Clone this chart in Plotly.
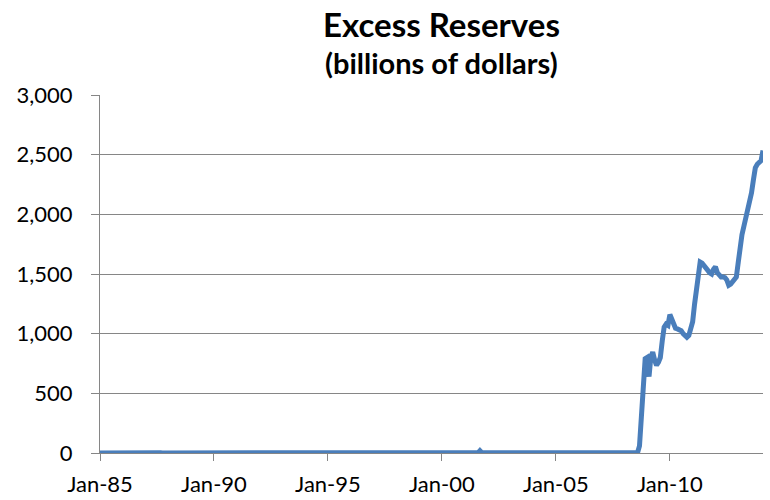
import pandas as pd
import plotly.graph_objects as go

# Monthly excess reserves of depository institutions, billions of dollars,
# one row per year starting Jan 1985.
reserves = [
    1.0, 1.3, 1.1, 0.9, 1.2, 1.4, 1.1, 0.9, 1.0, 1.2, 1.1, 1.6,   # 1985
    1.2, 1.0, 1.1, 1.3, 1.2, 1.4, 1.5, 1.2, 1.3, 1.1, 1.2, 1.9,   # 1986
    1.3, 1.0, 0.9, 1.1, 1.0, 0.9, 1.0, 0.9, 1.1, 1.0, 1.1, 1.3,   # 1987
    1.0, 1.1, 1.0, 0.9, 1.0, 1.1, 1.0, 0.9, 1.0, 0.9, 1.0, 1.2,   # 1988
    0.9, 0.8, 0.9, 1.0, 0.9, 0.8, 0.9, 0.9, 1.0, 0.9, 1.0, 1.0,   # 1989
    1.1, 0.9, 0.8, 1.0, 0.9, 1.0, 0.9, 1.0, 1.1, 0.9, 1.1, 1.4,   # 1990
    1.3, 1.1, 1.0, 1.2, 1.0, 1.1, 1.0, 1.1, 1.0, 1.0, 1.1, 1.2,   # 1991
    1.2, 1.0, 1.1, 1.0, 1.2, 1.1, 1.0, 1.1, 1.2, 1.0, 1.1, 1.6,   # 1992
    1.4, 1.1, 1.0, 1.2, 1.1, 1.0, 1.1, 1.0, 1.2, 1.1, 1.2, 1.5,   # 1993
    1.3, 1.0, 1.1, 1.0, 1.1, 1.2, 1.0, 1.1, 1.0, 1.1, 1.2, 1.4,   # 1994
    1.2, 1.0, 1.1, 1.0, 1.1, 1.0, 1.1, 1.0, 1.2, 1.1, 1.0, 1.3,   # 1995
    1.2, 1.1, 1.0, 1.2, 1.1, 1.2, 1.0, 1.1, 1.2, 1.0, 1.3, 1.6,   # 1996
    1.4, 1.2, 1.1, 1.3, 1.2, 1.3, 1.1, 1.2, 1.3, 1.2, 1.3, 1.6,   # 1997
    1.5, 1.3, 1.2, 1.4, 1.3, 1.4, 1.3, 1.4, 1.5, 1.3, 1.4, 1.7,   # 1998
    1.5, 1.3, 1.2, 1.4, 1.3, 1.4, 1.2, 1.3, 1.4, 1.3, 1.5, 2.0,   # 1999
    1.6, 1.3, 1.2, 1.4, 1.1, 1.3, 1.2, 1.3, 1.2, 1.1, 1.3, 1.5,   # 2000
    1.3, 1.2, 1.1, 1.3, 1.2, 1.4, 1.3, 1.2, 19.0, 1.7, 1.5, 1.9,  # 2001
    1.6, 1.4, 1.3, 1.5, 1.4, 1.5, 1.4, 1.6, 1.5, 1.4, 1.6, 2.0,   # 2002
    1.8, 1.5, 1.4, 1.6, 1.5, 1.7, 1.6, 1.5, 1.7, 1.6, 1.7, 2.0,   # 2003
    1.8, 1.6, 1.5, 1.7, 1.6, 1.8, 1.7, 1.6, 1.8, 1.7, 1.8, 2.1,   # 2004
    1.7, 1.5, 1.6, 1.7, 1.6, 1.8, 1.7, 1.6, 1.8, 1.7, 1.6, 1.9,   # 2005
    1.8, 1.6, 1.7, 1.8, 1.6, 1.7, 1.8, 1.6, 1.7, 1.8, 1.7, 1.9,   # 2006
    1.7, 1.6, 1.7, 1.8, 1.6, 1.7, 1.8, 1.7, 1.8, 1.6, 1.7, 1.9,   # 2007
    1.8, 1.7, 1.9, 1.8, 1.7, 1.9, 1.8, 1.9, 60, 270, 600, 790,     # 2008
    800, 640, 800, 845, 780, 735, 760, 800, 940, 1055, 1080, 1070,  # 2009
    1160, 1120, 1060, 1045, 1040, 1030, 1025, 1000, 980, 970, 985, 1030,  # 2010
    1100, 1250, 1390, 1500, 1600, 1590, 1575, 1550, 1530, 1510, 1500, 1540,  # 2011
    1560, 1510, 1490, 1475, 1475, 1470, 1450, 1405, 1415, 1430, 1450, 1475,  # 2012
    1600, 1750, 1830, 1900, 1960, 2050, 2120, 2180, 2290, 2390, 2420, 2440,  # 2013
    2450, 2535,                                                    # 2014
]

months = pd.date_range("1985-01-01", periods=len(reserves), freq="MS")

y_ticks = [0, 500, 1000, 1500, 2000, 2500, 3000]
x_ticks = ["1985-01-01", "1990-01-01", "1995-01-01", "2000-01-01", "2005-01-01", "2010-01-01"]
x_labels = ["Jan-85", "Jan-90", "Jan-95", "Jan-00", "Jan-05", "Jan-10"]

FONT = "Lato, 'Open Sans', sans-serif"
GRID = "#868686"
PLOT_TOP, PLOT_H = 95, 358

fig = go.Figure()
fig.add_trace(go.Scatter(
    x=months,
    y=reserves,
    mode="lines",
    line=dict(color="#4A7EBB", width=5),
    hoverinfo="x+y",
))

fig.update_layout(
    width=770,
    height=500,
    margin=dict(l=100, r=7, t=PLOT_TOP, b=500 - PLOT_TOP - PLOT_H),
    paper_bgcolor="white",
    plot_bgcolor="white",
    showlegend=False,
    font=dict(family=FONT, color="black", size=22),
    annotations=[
        dict(text="<b>Excess Reserves</b>", x=0.515,
             y=1 + (PLOT_TOP - 24) / PLOT_H, xref="paper", yref="paper",
             showarrow=False, font=dict(size=33, family=FONT), yanchor="middle"),
        dict(text="<b>(billions of dollars)</b>", x=0.515,
             y=1 + (PLOT_TOP - 62) / PLOT_H, xref="paper", yref="paper",
             showarrow=False, font=dict(size=29, family=FONT), yanchor="middle"),
    ],
)

fig.update_xaxes(
    type="date",
    range=["1985-01-01", "2014-02-01"],
    tickvals=x_ticks,
    ticktext=x_labels,
    ticks="outside",
    ticklen=7,
    tickcolor=GRID,
    showline=True,
    linecolor=GRID,
    linewidth=1,
    showgrid=False,
    zeroline=False,
    automargin=False,
    tickfont=dict(size=22, family=FONT),
    ticklabelstandoff=5,
)
fig.update_yaxes(
    range=[0, 3000],
    tickvals=y_ticks,
    tickformat=",d",
    ticks="outside",
    ticklen=8,
    tickcolor=GRID,
    showline=True,
    linecolor=GRID,
    linewidth=1,
    showgrid=True,
    gridcolor=GRID,
    gridwidth=1,
    zeroline=False,
    automargin=False,
    tickfont=dict(size=22, family=FONT),
    ticklabelstandoff=14,
)

fig.write_html("out.html")
